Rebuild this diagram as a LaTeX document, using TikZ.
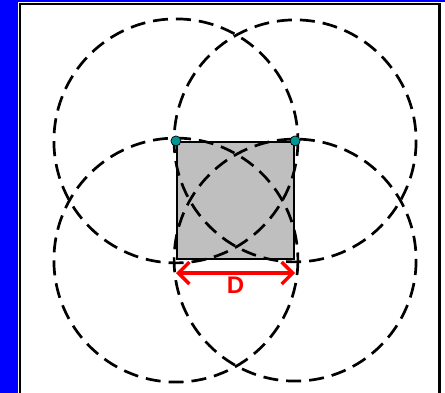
\documentclass[tikz,border=0pt]{standalone}
\usepackage{fontspec}
\setsansfont{Liberation Sans}
\usepackage{xcolor}
\usetikzlibrary{positioning, arrows.meta, calc}

\definecolor{frameblue}{RGB}{0,0,255}
\definecolor{dotteal}{RGB}{0,150,150}

\begin{document}
\begin{tikzpicture}[x=1pt, y=-1pt,
  cell/.style={rectangle, draw=black, line width=2.2pt, fill=black!25, minimum size=117pt, inner sep=0pt},
  ring/.style={draw=black, line width=2.7pt, dash pattern=on 15pt off 8pt},
  sensor/.style={circle, draw=black, line width=0.7pt, fill=dotteal, minimum size=10pt, inner sep=0pt},
  dimline/.style={draw=red, line width=3.5pt, {Straight Barb[length=11pt, width=22pt]}-{Straight Barb[length=11pt, width=22pt]}},
  dimlbl/.style={text=red, font=\sffamily\bfseries\fontsize{24}{26}\selectfont, inner sep=0pt}
]
  \useasboundingbox (0,0) rectangle (445,393);

  % rahmen
  \fill[white] (20,4) rectangle (440,393);
  \fill[frameblue] (0,0) rectangle (18,393);
  \fill[frameblue] (0,0) rectangle (445,2.5);
  \draw[black, line width=2.5pt] (20,393) -- (20,4) -- (439.5,4) -- (439.5,393);

  % quadrat
  \node[cell] (sq) at (235.5,200.5) {};

  % kreise um die ecken
  \draw[ring] (sq.north west) circle (122);
  \draw[ring] (sq.north east) circle (121);
  \draw[ring] (sq.south west) circle (122);
  \draw[ring] (sq.south east) circle (121);

  % punkte oben
  \node[sensor] (s1) at (sq.north west) {};
  \node[sensor] (s2) at (sq.north east) {};

  % abstand D
  \coordinate (dl) at ([yshift=-13pt]sq.south west);
  \coordinate (dr) at ([yshift=-13pt]sq.south east);
  \coordinate (dm) at ($(dl)!0.5!(dr)$);
  \draw[dimline] (dl) -- (dr);
  \node[dimlbl, below=4pt of dm] (dlab) {D};
\end{tikzpicture}
\end{document}
